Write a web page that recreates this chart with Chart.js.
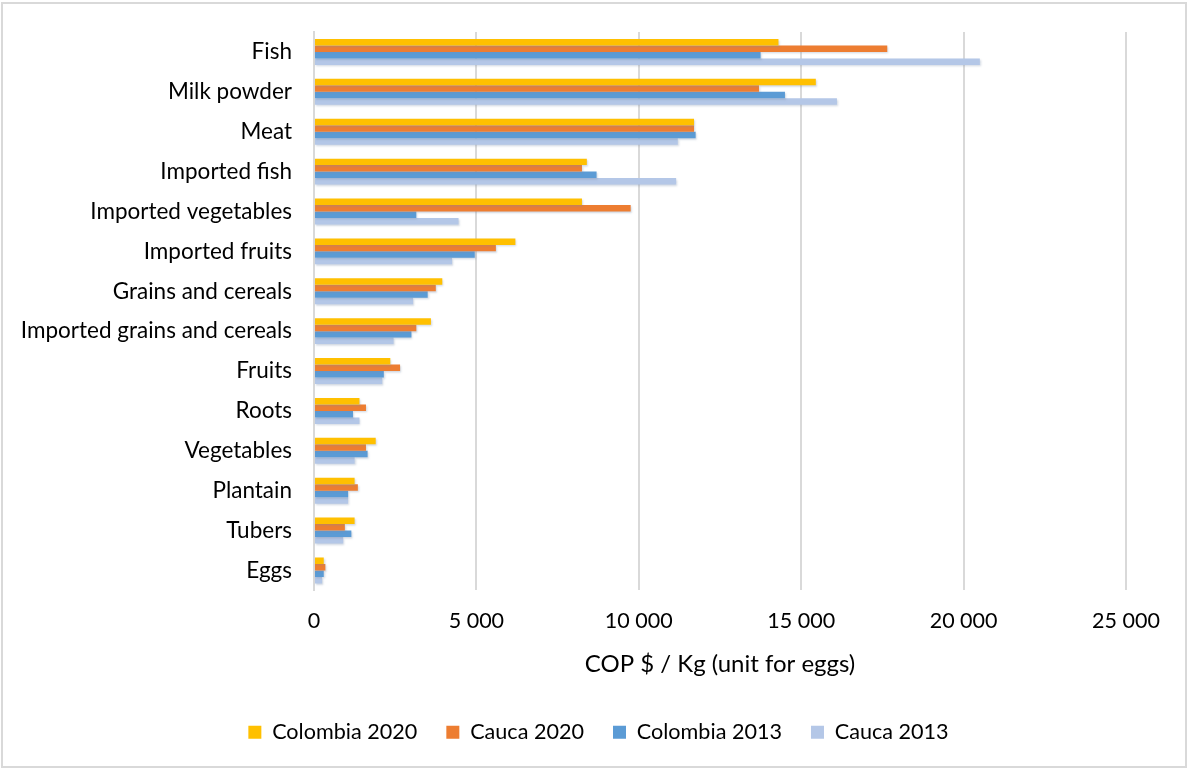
<!DOCTYPE html>
<html>
<head>
<meta charset="utf-8">
<script src="https://cdn.jsdelivr.net/npm/chart.js@4.4.1/dist/chart.umd.min.js"></script>
<style>
  body { margin: 0; background: #fff; }
  #frame { position: absolute; left: 1px; top: 2px; width: 1186px; height: 766px; box-sizing: border-box; border: 2px solid #d9d9d9; }
  #chart { position: absolute; left: 0; top: 0; }
</style>
</head>
<body>
<div id="frame"></div>
<canvas id="chart" width="1189" height="769"></canvas>
<script>
// food price per kg, by product
const categories = ["Fish", "Milk powder", "Meat", "Imported fish", "Imported vegetables", "Imported fruits",
  "Grains and cereals", "Imported grains and cereals", "Fruits", "Roots", "Vegetables", "Plantain", "Tubers", "Eggs"];
const colombia2020 = [14300, 15450, 11700, 8400, 8250, 6200, 3950, 3600, 2350, 1400, 1900, 1250, 1250, 300];
const cauca2020    = [17650, 13700, 11700, 8250, 9750, 5600, 3750, 3150, 2650, 1600, 1600, 1350, 950, 350];
const colombia2013 = [13750, 14500, 11750, 8700, 3150, 4950, 3500, 3000, 2150, 1200, 1650, 1050, 1150, 300];
const cauca2013    = [20500, 16100, 11200, 11150, 4450, 4250, 3050, 2450, 2100, 1400, 1250, 1050, 900, 250];
const xTicks = [0, 5000, 10000, 15000, 20000, 25000];

const FONT = "Lato";

function fmt(v) {
  return String(v).replace(/\B(?=(\d{3})+(?!\d))/g, " ");
}

// soft drop shadow under the bars
const barShadow = {
  id: "barShadow",
  beforeDatasetsDraw(chart) {
    const ctx = chart.ctx;
    ctx.save();
    ctx.shadowColor = "rgba(120,140,170,0.35)";
    ctx.shadowBlur = 2;
    ctx.shadowOffsetX = 1;
    ctx.shadowOffsetY = 1.5;
  },
  afterDatasetsDraw(chart) {
    chart.ctx.restore();
  }
};

function ds(label, data, color) {
  return { label: label, data: data, backgroundColor: color, borderWidth: 0,
           categoryPercentage: 0.65, barPercentage: 1.0 };
}

new Chart(document.getElementById("chart"), {
  type: "bar",
  data: {
    labels: categories,
    datasets: [
      ds("Colombia 2020", colombia2020, "#FFC000"),
      ds("Cauca 2020", cauca2020, "#ED7D31"),
      ds("Colombia 2013", colombia2013, "#5B9BD5"),
      ds("Cauca 2013", cauca2013, "#B4C7E7")
    ]
  },
  options: {
    indexAxis: "y",
    responsive: false,
    animation: false,
    layout: { padding: { top: 32, right: 12, left: 20, bottom: 16 } },
    scales: {
      x: {
        min: 0, max: 25000,
        afterBuildTicks(scale) { scale.ticks = xTicks.map(v => ({ value: v })); },
        afterFit(scale) { scale.height = 102; },
        grid: { color: "#d9d9d9", lineWidth: 2, drawTicks: false },
        border: { display: false },
        ticks: { color: "#000", font: { family: FONT, size: 21.5 }, padding: 18,
                 callback: v => fmt(v) },
        title: { display: true, text: "COP $ / Kg (unit for eggs)", color: "#000",
                 font: { family: FONT, size: 24 }, padding: { top: 0, bottom: 14 } }
      },
      y: {
        afterFit(scale) { scale.width = 294; scale.paddingTop = 0; scale.paddingBottom = 0; },
        grid: { display: false, drawTicks: false },
        border: { display: true, color: "#d9d9d9", width: 2 },
        ticks: { color: "#000", font: { family: FONT, size: 22.5 }, padding: 22 }
      },
      // empty strip on the right so the plot ends at the last gridline
      yRight: {
        axis: "y",
        type: "category",
        position: "right",
        afterFit(scale) { scale.width = 51; },
        grid: { display: false, drawTicks: false },
        border: { display: false },
        ticks: { display: false }
      }
    },
    plugins: {
      legend: {
        position: "bottom",
        labels: { color: "#000", font: { family: FONT, size: 21.6 }, boxWidth: 13, boxHeight: 13,
                  padding: 29 }
      },
      tooltip: { enabled: false }
    }
  },
  plugins: [barShadow]
});
</script>
</body>
</html>
